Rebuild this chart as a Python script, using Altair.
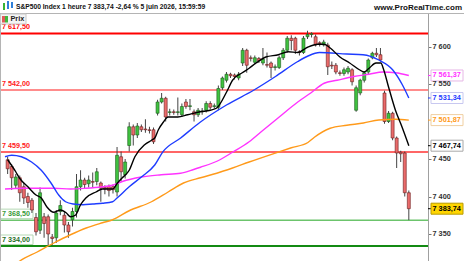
import altair as alt
import pandas as pd

# ---------------- data ----------------
opens = [7449, 7440, 7415, 7425, 7413, 7400, 7395, 7372, 7355, 7373,
         7373, 7346, 7345, 7380, 7375, 7362, 7369, 7380, 7413, 7422,
         7417, 7420, 7420, 7418, 7412, 7413, 7413, 7406, 7453, 7429,
         7468, 7493, 7482, 7493, 7490, 7489, 7489, 7511, 7526, 7531,
         7512, 7513, 7512, 7509, 7526, 7520, 7513, 7509, 7513, 7515,
         7524, 7520, 7519, 7545, 7555, 7563, 7562, 7558, 7578, 7595,
         7585, 7579, 7584, 7578, 7576, 7578, 7572, 7572, 7585, 7595,
         7611, 7611, 7593, 7592, 7613, 7616, 7613, 7605, 7602, 7602,
         7575, 7575, 7565, 7564, 7566, 7569, 7515, 7538, 7555, 7566,
         7585, 7591, 7589, 7538, 7500, 7511, 7478, 7459, 7458, 7405]
highs = [7453, 7443, 7430, 7428, 7418, 7405, 7398, 7378, 7412, 7378,
         7376, 7350, 7382, 7395, 7380, 7366, 7385, 7430, 7435, 7425,
         7428, 7432, 7438, 7420, 7415, 7416, 7416, 7466, 7460, 7450,
         7499, 7496, 7498, 7496, 7503, 7493, 7492, 7529, 7538, 7533,
         7517, 7516, 7532, 7524, 7530, 7530, 7516, 7518, 7518, 7527,
         7527, 7524, 7548, 7560, 7566, 7565, 7564, 7566, 7598, 7597,
         7588, 7588, 7586, 7598, 7592, 7580, 7576, 7588, 7598, 7614,
         7615, 7613, 7595, 7614, 7621, 7619, 7616, 7607, 7609, 7605,
         7580, 7578, 7568, 7572, 7574, 7571, 7548, 7557, 7567, 7584,
         7593, 7598, 7598, 7541, 7514, 7513, 7480, 7461, 7460, 7408]
lows = [7430, 7409, 7410, 7393, 7390, 7385, 7378, 7348, 7350, 7345,
        7335, 7335, 7338, 7375, 7352, 7345, 7360, 7372, 7408, 7410,
        7412, 7412, 7415, 7393, 7403, 7400, 7404, 7400, 7420, 7424,
        7460, 7468, 7478, 7486, 7485, 7484, 7470, 7508, 7524, 7500,
        7508, 7509, 7508, 7506, 7517, 7515, 7500, 7506, 7509, 7512,
        7516, 7517, 7515, 7542, 7552, 7558, 7556, 7555, 7574, 7565,
        7580, 7576, 7578, 7575, 7572, 7558, 7568, 7570, 7582, 7592,
        7595, 7590, 7588, 7590, 7610, 7612, 7600, 7600, 7600, 7562,
        7570, 7563, 7561, 7561, 7563, 7548, 7513, 7535, 7552, 7563,
        7583, 7586, 7580, 7497, 7498, 7475, 7438, 7446, 7400, 7368.5]
closes = [7437, 7425, 7426, 7405, 7398, 7392, 7382, 7353, 7405, 7364,
          7350, 7344, 7378, 7388, 7362, 7353, 7380, 7413, 7422, 7416,
          7422, 7419, 7433, 7411, 7410, 7408, 7409, 7455, 7433, 7446,
          7493, 7482, 7494, 7489, 7489, 7488, 7473, 7526, 7531, 7506,
          7513, 7512, 7513, 7520, 7520, 7521, 7509, 7515, 7514, 7524,
          7519, 7521, 7544, 7558, 7563, 7561, 7560, 7563, 7595, 7575,
          7584, 7585, 7581, 7583, 7575, 7572, 7573, 7585, 7595, 7611,
          7608, 7595, 7592, 7611, 7616, 7617, 7602, 7604, 7606, 7573,
          7574, 7566, 7564, 7569, 7571, 7553, 7545, 7555, 7565, 7582,
          7591, 7589, 7582, 7500, 7511, 7478, 7458, 7457, 7405, 7383.74]

# moving averages, sampled along the candle index
ma_black_x = [0, 2, 3, 5, 7, 8.3, 9.7, 11.4, 13, 14.5, 15.5, 16.7, 18, 19.3,
              21.8, 23.4, 25.9, 27.1, 28.3, 30, 31.4, 33.8, 35.5, 36.3, 37.2,
              38.4, 39.6, 42, 44.4, 47.5, 50, 51.6, 54, 55.5, 57.9, 59.6, 61.3,
              63.7, 66.8, 69.2, 71.6, 74, 76.5, 78.1, 79.6, 82, 84.4, 86.8, 88,
              89.2, 90.9, 92.1, 92.8, 94, 95.7, 97.3, 99]
ma_black_v = [7449, 7433, 7424, 7413, 7402, 7398, 7386, 7379, 7382, 7378,
              7373, 7375, 7389, 7398, 7406, 7410, 7410, 7418, 7425, 7435,
              7453, 7469, 7475, 7478, 7489, 7499, 7506, 7506, 7509, 7513,
              7515, 7518, 7539, 7555, 7565, 7571, 7578, 7586, 7589, 7593,
              7592, 7599, 7603, 7603, 7598, 7586, 7578, 7569, 7566, 7571,
              7578, 7578, 7569, 7546, 7515, 7493, 7467.74]
ma_blue_x = [-0.65, 1, 3.4, 5.9, 8.3, 10.7, 12.6, 14.3, 16.2, 18.6, 21, 23.4,
             25.9, 27, 30, 33, 36.3, 38.3, 42.7, 47.5, 54, 60.8, 66.1, 71.6,
             74, 77, 83.7, 87.7, 91.6, 95, 97.4, 99]
ma_blue_v = [7453, 7455, 7453, 7446, 7435, 7418, 7402, 7393, 7390, 7389, 7390,
             7391, 7393, 7398, 7413, 7426, 7442, 7459.5, 7478, 7499, 7522,
             7542, 7560, 7580, 7587, 7592, 7590, 7589, 7582, 7569, 7549, 7531.34]
ma_magenta_x = [-0.65, 3.4, 7.3, 11.4, 15.5, 19.3, 23.4, 25.9, 28.3, 33, 37.9,
                42.7, 45.9, 47.6, 52.4, 55.5, 59.6, 62.5, 66.8, 71.6, 74.8,
                78.1, 81.3, 85.4, 89.2, 92.6, 95.7, 99]
ma_magenta_v = [7410, 7411, 7411, 7411, 7410, 7411, 7413, 7415, 7420, 7426,
                7429, 7431, 7436, 7439, 7449, 7459, 7473, 7486, 7505, 7526,
                7538, 7551, 7555, 7560, 7563, 7566, 7565, 7561.37]
ma_orange_x = [2.5, 3, 7.3, 11.4, 15.5, 19.4, 23.4, 25.9, 30, 35.5, 39.6, 43.4,
               47.6, 51.6, 55.5, 59.6, 66.1, 70, 74.1, 75.7, 79.6, 83.7, 87.8,
               91.6, 95.7, 99]
ma_orange_v = [7312, 7314, 7326, 7338, 7349, 7358, 7365, 7369, 7381, 7393,
               7406, 7418, 7425, 7431, 7438, 7446, 7458, 7465, 7472, 7479,
               7491, 7495, 7498, 7502, 7503, 7501.87]

levels = [7617.5, 7542.0, 7459.5, 7368.5, 7334.0]
ma_last = [7561.37, 7531.34, 7501.87, 7467.74]
last_price = 7383.74
axis_ticks = [7350, 7400, 7450, 7550, 7600]
title_text = "S&P500 Index 1 heure 7 383,74 -2,64 % 5 juin 2026, 15:59:59"
site_text = "www.ProRealTime.com"
legend_text = "Prix"

# ---------------- styles ----------------
FONT = "Liberation Sans"
W, H = 428, 248
Y_DOMAIN = [7314.0, 7644.67]
PX = H / (Y_DOMAIN[1] - Y_DOMAIN[0])   # pixels per index point
X_DOMAIN = [-0.65, 102.5]
level_colors = ["#ff0000", "#ff8c8c", "#ff3333", "#6cc46c", "#138a13"]
level_widths = [2, 2, 1.5, 1.5, 2]
level_text_colors = ["#ff0000", "#ff2020", "#ff2020", "#3a9a3a", "#1f6f1f"]
ma_names = ["magenta", "blue", "orange", "black"]
ma_colors = ["#ff33ff", "#1e3cff", "#ff9a1a", "#000000"]
box_fill = ["#ffffff", "#ffffff", "#ffffff", "#ffffff"]
box_stroke = ["#e6b8e6", "#c8c8f0", "#f0cfa0", "#a8a8a8"]


def fmt(v):
    return f"{v:,.2f}".replace(",", " ").replace(".", ",")


yscale = alt.Scale(domain=Y_DOMAIN, nice=False, zero=False)
xscale = alt.Scale(domain=X_DOMAIN, nice=False, zero=False)
YAX = alt.Axis(orient="right", values=axis_ticks, grid=False, title=None,
               labels=False, tickSize=3, tickColor="#777777",
               domainColor="#a0a0a0")


def Yq(field):
    return alt.Y(field, scale=yscale, axis=YAX, title=None)


# ---------------- tables ----------------
cdf = pd.DataFrame({"i": list(range(len(opens))), "o": opens, "h": highs,
                    "l": lows, "c": closes})
cdf["dir"] = ["up" if c >= o else "down" for o, c in zip(opens, closes)]

ma_rows = []
for name, xs, vs in [("magenta", ma_magenta_x, ma_magenta_v),
                     ("blue", ma_blue_x, ma_blue_v),
                     ("orange", ma_orange_x, ma_orange_v),
                     ("black", ma_black_x, ma_black_v)]:
    for x, v in zip(xs, vs):
        ma_rows.append({"series": name, "i": x, "v": v})
madf = pd.DataFrame(ma_rows)

ldf = pd.DataFrame({"v": levels, "col": level_colors, "w": level_widths,
                    "tcol": level_text_colors,
                    "txt": [fmt(v) for v in levels]})
ldf["boxed"] = [False, False, False, True, True]
ldf["lo"] = ldf["v"] + 1.5 / PX
ldf["hi"] = ldf["v"] + 11.0 / PX

rdf = pd.DataFrame({"v": ma_last + [last_price],
                    "txt": [fmt(v) for v in ma_last + [last_price]],
                    "col": ma_colors + ["#000000"],
                    "fill": box_fill + ["#ffd500"],
                    "stroke": box_stroke + ["#b89a00"]})
rdf["lo"] = rdf["v"] - 5.5 / PX
rdf["hi"] = rdf["v"] + 5.5 / PX

tdf = pd.DataFrame({"tv": [float(t) for t in axis_ticks],
                    "tlabel": [f"{t:,d}".replace(",", " ") for t in axis_ticks]})

one = pd.DataFrame({"k": [0]})

X = alt.X("i:Q", scale=xscale, axis=None)

# ---------------- layers ----------------
level_rules = alt.Chart(ldf).mark_rule().encode(
    y=Yq("v:Q"),
    color=alt.Color("col:N", scale=None),
    strokeWidth=alt.StrokeWidth("w:Q", scale=None),
)
level_boxes = alt.Chart(ldf).transform_filter("datum.boxed").mark_rect(
    fill="#ffffff", stroke="#b5d8b5", strokeWidth=1).encode(
    x=alt.value(0.5), x2=alt.value(33),
    y=Yq("lo:Q"), y2="hi:Q")
level_text = alt.Chart(ldf).mark_text(
    align="left", baseline="middle", dy=-6, font=FONT, fontSize=7.2,
    fontWeight="bold").encode(
    x=alt.value(2), y=Yq("v:Q"),
    text="txt:N", color=alt.Color("tcol:N", scale=None))

wicks = alt.Chart(cdf).mark_rule(color="#444444", strokeWidth=1).encode(
    x=X, y=Yq("l:Q"), y2="h:Q")
bodies = alt.Chart(cdf).mark_bar(size=3, strokeWidth=0.6).encode(
    x=X,
    y=Yq("o:Q"), y2="c:Q",
    fill=alt.Fill("dir:N", scale=alt.Scale(domain=["up", "down"],
                                           range=["#3fc23f", "#ea6b6b"]),
                  legend=None),
    stroke=alt.Stroke("dir:N", scale=alt.Scale(domain=["up", "down"],
                                               range=["#1d5a1d", "#6a1c1c"]),
                      legend=None))

ma_lines = alt.Chart(madf).mark_line(strokeWidth=1.4, clip=True,
                                     interpolate="monotone").encode(
    x=X, y=Yq("v:Q"),
    color=alt.Color("series:N", scale=alt.Scale(domain=ma_names, range=ma_colors),
                    legend=None),
    detail="series:N")

# right-hand value boxes
r_ticks = alt.Chart(rdf).mark_rule(strokeWidth=1).encode(
    x=alt.value(428), x2=alt.value(431),
    y=Yq("v:Q"),
    color=alt.Color("col:N", scale=None))
r_boxes = alt.Chart(rdf).mark_rect(strokeWidth=1).encode(
    x=alt.value(431), x2=alt.value(463),
    y=Yq("lo:Q"), y2="hi:Q",
    fill=alt.Fill("fill:N", scale=None),
    stroke=alt.Stroke("stroke:N", scale=None))
r_text = alt.Chart(rdf).mark_text(
    align="left", baseline="middle", font=FONT, fontSize=7.3,
    fontWeight="bold").encode(
    x=alt.value(432.5), y=Yq("v:Q"),
    text="txt:N", color=alt.Color("col:N", scale=None))

# axis tick labels on the right
tick_text = alt.Chart(tdf).mark_text(
    align="left", baseline="middle", font=FONT, fontSize=7.3,
    fontWeight="bold", color="#333333").encode(
    x=alt.value(432.5), y=Yq("tv:Q"), text="tlabel:N")

# header and frame
sep = alt.Chart(one).mark_rule(color="#b4b4b4", strokeWidth=1).encode(
    x=alt.value(0), x2=alt.value(464), y=alt.value(0.5))
left_edge = alt.Chart(one).mark_rule(color="#b4b4b4", strokeWidth=1).encode(
    x=alt.value(0.5), y=alt.value(0), y2=alt.value(H))
title = alt.Chart(one).mark_text(
    text=title_text, align="left", baseline="middle", font=FONT,
    fontSize=6.7, fontWeight="bold", color="#111111").encode(
    x=alt.value(16), y=alt.value(-6))
site = alt.Chart(one).mark_text(
    text=site_text, align="right", baseline="middle", font=FONT,
    fontSize=8, fontWeight="bold", color="#111111").encode(
    x=alt.value(462), y=alt.value(-5))
icon_g = alt.Chart(one).mark_rect(color="#36b336").encode(
    x=alt.value(3), x2=alt.value(5), y=alt.value(-10), y2=alt.value(-3))
icon_b = alt.Chart(one).mark_rect(color="#2f7fd8").encode(
    x=alt.value(7), x2=alt.value(9), y=alt.value(-12), y2=alt.value(-4))
icon_b2 = alt.Chart(one).mark_rect(color="#2f7fd8").encode(
    x=alt.value(11), x2=alt.value(13), y=alt.value(-11), y2=alt.value(-5))
leg_box = alt.Chart(one).mark_rect(fill="#f4f4f4", stroke="#c8c8c8",
                                   strokeWidth=1).encode(
    x=alt.value(0.5), x2=alt.value(26), y=alt.value(1), y2=alt.value(11))
leg_r = alt.Chart(one).mark_rect(color="#e05a5a").encode(
    x=alt.value(2), x2=alt.value(5), y=alt.value(3), y2=alt.value(9.5))
leg_g = alt.Chart(one).mark_rect(color="#3fb83f").encode(
    x=alt.value(5), x2=alt.value(8), y=alt.value(3), y2=alt.value(9.5))
leg_t = alt.Chart(one).mark_text(
    text=legend_text, align="left", baseline="middle", font=FONT,
    fontSize=7.3, fontWeight="bold", color="#222222").encode(
    x=alt.value(10.5), y=alt.value(6.3))

chart = alt.layer(
    level_rules, level_boxes, level_text, wicks, bodies, ma_lines,
    r_ticks, r_boxes, r_text, sep, left_edge, title, site,
    icon_g, icon_b, icon_b2, leg_box, leg_r, leg_g, leg_t, tick_text
).properties(
    width=W, height=H,
    autosize=alt.AutoSizeParams(type="none"),
    padding={"left": 0, "top": 13, "right": 36, "bottom": 0},
    background="#ffffff",
).configure_view(stroke=None)

chart.save("out.html", embed_options={"renderer": "svg", "actions": False})
